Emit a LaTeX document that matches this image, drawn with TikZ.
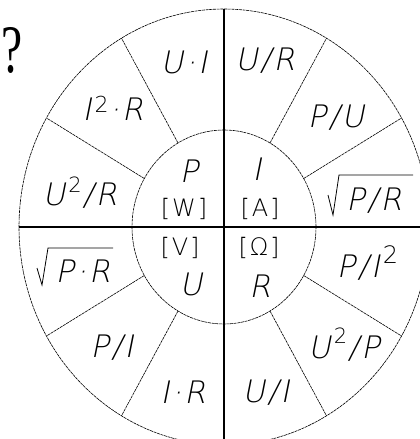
\documentclass[tikz,border=0pt]{standalone}
\usepackage{fontspec}
\setmainfont{Liberation Serif}
\IfFontExistsTF{DejaVu Sans ExtraLight}{%
  \newfontfamily\labfont{DejaVu Sans ExtraLight}[LetterSpace=8]%
  \newfontfamily\labfontit{DejaVu Sans ExtraLight}[LetterSpace=8,FakeSlant=0.2]%
}{%
 \IfFontExistsTF{Fira Sans Light}{%
  \newfontfamily\labfont{Fira Sans Light}[LetterSpace=12]%
  \newfontfamily\labfontit{Fira Sans Light}[LetterSpace=12,FakeSlant=0.2]%
 }{%
  \IfFontExistsTF{Lato Light}{%
   \newfontfamily\labfont{Lato Light}[LetterSpace=12]%
   \newfontfamily\labfontit{Lato Light}[LetterSpace=12,FakeSlant=0.2]%
  }{%
   \newfontfamily\labfont{Liberation Sans}[LetterSpace=12]%
   \newfontfamily\labfontit{Liberation Sans}[LetterSpace=12,FakeSlant=0.2]%
  }%
 }%
}
\newcommand\sqr[2]{\kern3pt\raisebox{#1}{\labfont\fontsize{#2}{#2}\selectfont 2}\kern1pt}
\tikzset{
  axisline/.style={line width=1.1pt},
  rim/.style={line width=0.6pt, dash pattern=on 3pt off 0.7pt},
  rootline/.style={line width=0.8pt},
  lab/.style={font=\labfontit\fontsize{31}{31}\selectfont, inner sep=0pt, anchor=base},
  unit/.style={font=\labfont\fontsize{24}{24}\selectfont, inner sep=0pt, anchor=base},
}
\begin{document}
\begin{tikzpicture}[x=1pt,y=-1pt]
\useasboundingbox (0,0) rectangle (420,439);
\coordinate (C) at (224,227);
\begin{scope}[shift={(C)}]
  \foreach \a in {0,30,60,90,120,150,180,210,240,270,300,330} {
    \coordinate (i\a) at (\a:92pt and 97pt);
    \coordinate (o\a) at (\a:205pt and 218pt);
  }
\end{scope}
\draw[rim] (C) ellipse [x radius=205pt, y radius=218pt];
\draw[rim] (C) ellipse [x radius=92pt, y radius=97pt];
\foreach \a in {30,60,120,150,210,240,300,330} \draw[rim] (i\a) -- (o\a);
\draw[axisline] (o90) -- (o270);
\draw[axisline] (o180) -- (o0);
% outer labels
\node[lab] (ui) at (184,73) {U·I};
\node[lab] (ur) at (265,70) {U/R};
\node[lab] (i2r) at (113,120) {I\sqr{8pt}{22}·R};
\node[lab] (pu) at (336,127) {P/U};
\node[lab] (u2r) at (80,205) {U\sqr{13pt}{21}/R};
\node[lab] (pr) at (374,210) {P/R};
\node[lab] (ppr) at (83,282) {P·R};
\node[lab] (pi2) at (368,277) {P/I\sqr{14pt}{24}};
\node[lab] (pi) at (112,357) {P/I};
\node[lab] (u2p) at (344,358) {U\sqr{15pt}{21}/P};
\node[lab] (ir) at (183,403) {I·R};
\node[lab] (uis) at (266,402) {U/I};
% radicals
\draw[rootline] (328,195) -- (333,215) -- (339,175) -- (413,175);
\draw[rootline] (37,268) -- (42,285) -- (48,248) -- (113,248);
% inner labels
\node[lab] (P) at (189,182) {P};
\node[lab] (I) at (257,180) {I};
\node[unit] (W) at (184,216) {[W]};
\node[unit] (A) at (260,216) {[A]};
\node[unit] (V) at (180,255) {[V]};
\node[unit] (O) at (259,255) {[Ω]};
\node[lab] (U) at (191,295) {U};
\node[lab] (R) at (260,297) {R};
% question mark
\node[font=\fontsize{68}{68}\selectfont, inner sep=0pt, anchor=base west, xscale=0.7] (q) at (1,72) {?};
\end{tikzpicture}
\end{document}
